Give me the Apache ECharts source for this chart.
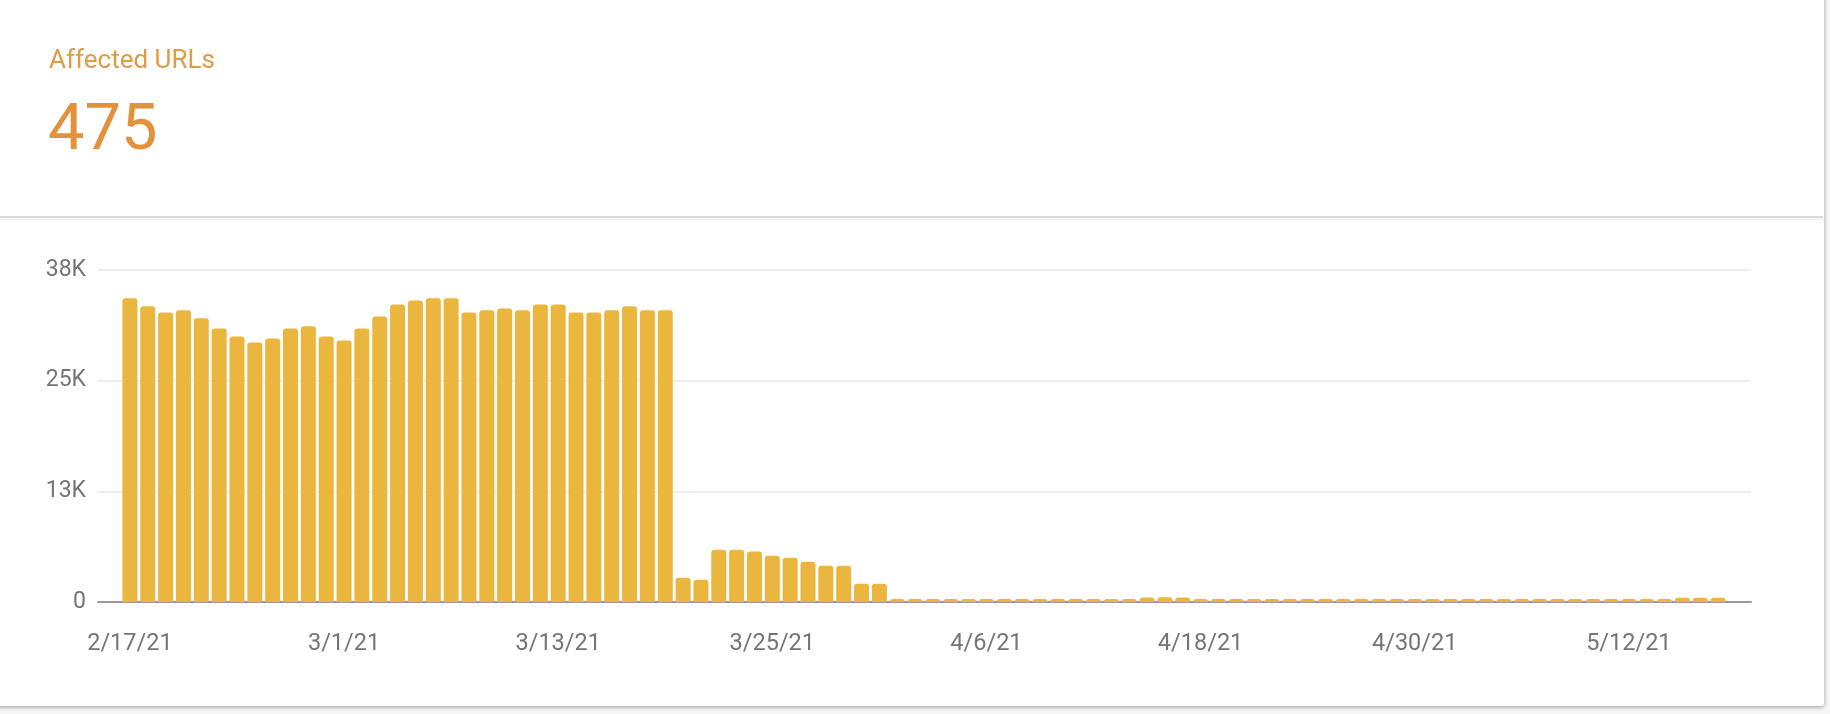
<!DOCTYPE html>
<html>
<head>
<meta charset="utf-8">
<script src="https://cdn.jsdelivr.net/npm/echarts@6/dist/echarts.min.js"></script>
<style>
  html, body { margin: 0; padding: 0; background: #f6f6f6; overflow: hidden; }
  #wrap { position: relative; width: 1830px; height: 714px; }
  #card { position: absolute; left: -10px; top: -10px; width: 1834px; height: 716px; background: #fff;
          box-shadow: 0 1px 4px rgba(0,0,0,0.38); border-radius: 3px; }
  #chart { position: absolute; left: 0; top: 0; width: 1830px; height: 714px; }
</style>
</head>
<body>
<div id="wrap"><div id="card"></div><div id="chart"></div></div>
<script>
// ---- data ----
const headerLabel = 'Affected URLs';
const headerValue = '475';

const categories = [
  '2/17/21','2/18/21','2/19/21','2/20/21','2/21/21','2/22/21','2/23/21','2/24/21','2/25/21','2/26/21','2/27/21','2/28/21',
  '3/1/21','3/2/21','3/3/21','3/4/21','3/5/21','3/6/21','3/7/21','3/8/21','3/9/21','3/10/21','3/11/21','3/12/21',
  '3/13/21','3/14/21','3/15/21','3/16/21','3/17/21','3/18/21','3/19/21','3/20/21','3/21/21','3/22/21','3/23/21','3/24/21',
  '3/25/21','3/26/21','3/27/21','3/28/21','3/29/21','3/30/21','3/31/21','4/1/21','4/2/21','4/3/21','4/4/21','4/5/21',
  '4/6/21','4/7/21','4/8/21','4/9/21','4/10/21','4/11/21','4/12/21','4/13/21','4/14/21','4/15/21','4/16/21','4/17/21',
  '4/18/21','4/19/21','4/20/21','4/21/21','4/22/21','4/23/21','4/24/21','4/25/21','4/26/21','4/27/21','4/28/21','4/29/21',
  '4/30/21','5/1/21','5/2/21','5/3/21','5/4/21','5/5/21','5/6/21','5/7/21','5/8/21','5/9/21','5/10/21','5/11/21',
  '5/12/21','5/13/21','5/14/21','5/15/21','5/16/21','5/17/21'
];

const affectedUrls = [
  34300, 33400, 32700, 32950, 32050, 30900, 30000, 29300, 29750, 30900, 31150, 30000,
  29550, 30900, 32250, 33600, 34050, 34300, 34300, 32700, 32950, 33150, 32950, 33600,
  33600, 32700, 32700, 32950, 33400, 32950, 32950, 2750, 2520, 5910, 5910, 5690,
  5230, 5010, 4560, 4100, 4100, 2070, 2070, 350, 350, 350, 350, 350,
  350, 350, 350, 350, 350, 350, 350, 350, 350, 520, 530, 510,
  350, 350, 350, 350, 350, 350, 350, 350, 350, 350, 350, 350,
  350, 350, 350, 350, 350, 350, 350, 350, 350, 350, 350, 350,
  350, 350, 350, 490, 490, 475
];

const yTicks = [0, 12500, 25000, 37500];

// ---- chart ----
const chart = echarts.init(document.getElementById('chart'), null, { renderer: 'canvas' });
const FONT = 'Roboto, "Noto Sans", sans-serif';
const yMin = yTicks[0], yMax = yTicks[yTicks.length - 1], yStep = yTicks[1] - yTicks[0];

chart.setOption({
  animation: false,
  textStyle: { fontFamily: FONT },
  grid: [
    { left: 98, top: 270, width: 1653, height: 332 },
    { left: 121, top: 270, width: 1606, height: 332 }
  ],
  xAxis: [
    { type: 'value', gridIndex: 0, min: 0, max: 1,
      axisLine: { show: true, lineStyle: { color: '#9a9a9a', width: 2 } },
      axisTick: { show: false }, axisLabel: { show: false }, splitLine: { show: false } },
    { type: 'category', gridIndex: 1, data: categories, boundaryGap: true,
      axisLine: { show: false }, axisTick: { show: false }, splitLine: { show: false },
      axisLabel: { interval: 11, margin: 30, color: '#757575', fontSize: 23.5, fontFamily: FONT } }
  ],
  yAxis: [
    { type: 'value', gridIndex: 0, min: yMin, max: yMax, interval: yStep,
      axisLine: { show: false }, axisTick: { show: false },
      splitLine: { show: true, lineStyle: { color: '#e8e8e8', width: 1.5 } },
      axisLabel: { margin: 12, color: '#757575', fontSize: 23, fontFamily: FONT,
        formatter: v => v === 0 ? '0' : Math.round(v / 1000) + 'K' } },
    { type: 'value', gridIndex: 1, min: yMin, max: yMax, interval: yStep, show: false }
  ],
  series: [{
    type: 'bar', xAxisIndex: 1, yAxisIndex: 1, data: affectedUrls,
    barWidth: 15, z: 3,
    itemStyle: { color: '#EAB63E', borderRadius: [3, 3, 0, 0] }
  }],
  graphic: [
    { type: 'line', shape: { x1: 0, y1: 217, x2: 1823, y2: 217 }, style: { stroke: '#d8d8d8', lineWidth: 2 } },
    { type: 'line', shape: { x1: 0, y1: 219.5, x2: 1823, y2: 219.5 }, style: { stroke: '#f1f1f1', lineWidth: 2 } },
    { type: 'text', x: 49, y: 61, style: { text: headerLabel, fill: '#DE9C45', font: '400 26px ' + FONT, verticalAlign: 'middle', align: 'left' } },
    { type: 'text', x: 48, y: 133, style: { text: headerValue, fill: '#E3913A', font: '400 65px ' + FONT, verticalAlign: 'middle', align: 'left' } }
  ]
});
</script>
</body>
</html>
